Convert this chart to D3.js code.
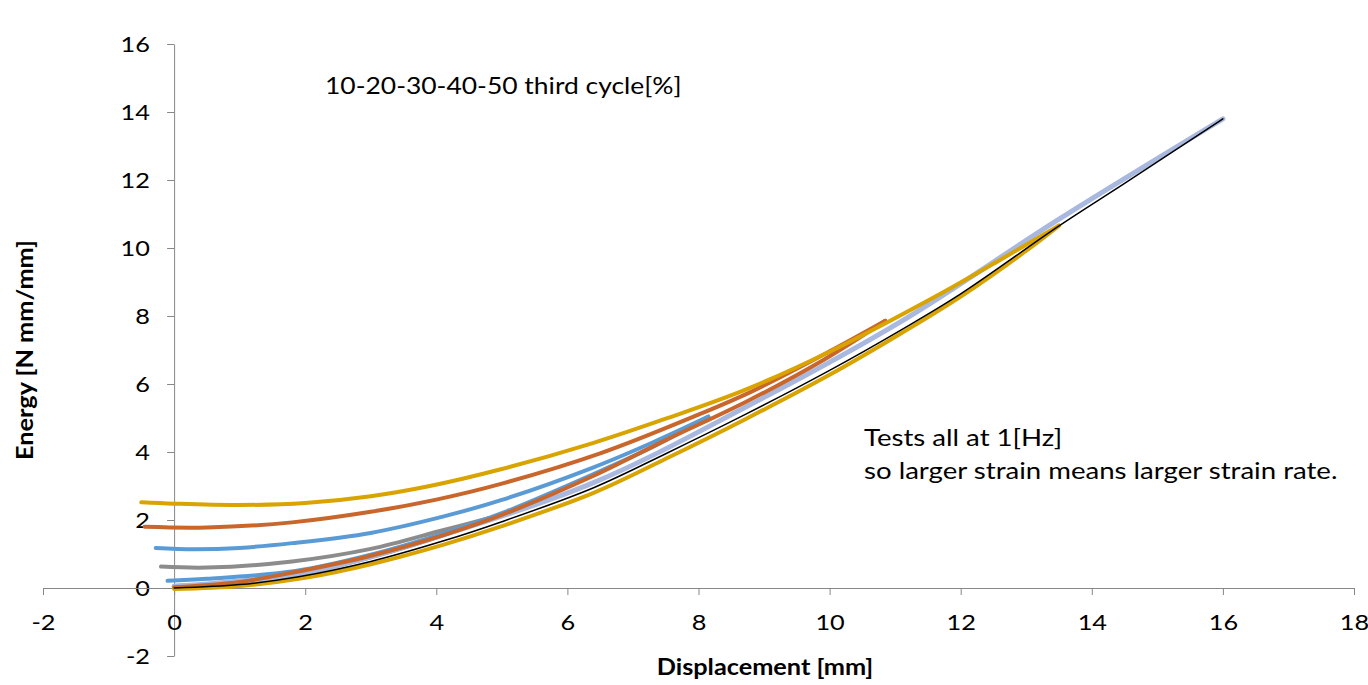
<!DOCTYPE html>
<html>
<head>
<meta charset="utf-8">
<script src="https://cdn.jsdelivr.net/npm/d3@7"></script>
<style>
  body { margin: 0; background: #fff; }
  svg { font-family: Lato, "Open Sans", sans-serif; }
</style>
</head>
<body>
<svg width="1368" height="685"></svg>
<script>
// ticks
const xTicks = [-2, 0, 2, 4, 6, 8, 10, 12, 14, 16, 18];
const yTicks = [-2, 0, 2, 4, 6, 8, 10, 12, 14, 16];

// [displacement, energy]
const grayLoad = [[0, 0.06], [1, 0.17], [2, 0.45], [3, 0.9], [4, 1.48], [4.8, 2.03]];
const grayUnload = [[4.8, 2.05], [4.1, 1.7], [3, 1.15], [1.8, 0.78], [0.5, 0.6], [-0.2, 0.63]];
const lavenderLoad = [[0, 0.05], [2, 0.45], [4, 1.5], [6.4, 3.1], [8.7, 5.3], [11.1, 7.85], [13.5, 10.85], [16, 13.8]];
const blueLoad = [[-0.1, 0.21], [0.5, 0.27], [1.85, 0.5], [3, 0.98], [4.1, 1.6], [5, 2.2], [6.4, 3.35], [7.3, 4.15], [8.15, 5.04]];
const blueUnload = [[8.15, 5.04], [7.3, 4.28], [6.4, 3.55], [5, 2.59], [4.1, 2.1], [3, 1.62], [1.8, 1.32], [1, 1.18], [0.3, 1.14], [-0.28, 1.18]];
const orangeLoad = [[0, 0.02], [1, 0.18], [1.77, 0.44], [3, 0.95], [4.1, 1.55], [5, 2.15], [6.4, 3.3], [7.5, 4.35], [8.75, 5.5], [9.9, 6.7], [10.85, 7.86]];
const orangeUnload = [[10.85, 7.86], [10, 6.96], [8.8, 5.77], [8, 5.1], [6.5, 3.96], [5, 3.07], [4, 2.6], [3, 2.24], [1.8, 1.93], [0.5, 1.78], [-0.45, 1.8]];
const goldLoad = [[0, -0.03], [1, 0.06], [2, 0.3], [3, 0.7], [4.1, 1.27], [5, 1.82], [6.4, 2.8], [7.5, 3.8], [8.7, 4.95], [10, 6.27], [11.1, 7.5], [12, 8.57], [13, 9.92], [13.5, 10.66]];
const goldUnload = [[13.5, 10.66], [12.6, 9.65], [11.6, 8.56], [10, 6.95], [8.7, 5.82], [7.5, 4.98], [6.4, 4.27], [5, 3.5], [3.9, 3.0], [3, 2.7], [2, 2.5], [1, 2.44], [0, 2.48], [-0.5, 2.52]];
const blackLoad = [[0, 0], [1, 0.1], [1.9, 0.33], [3, 0.78], [4.1, 1.38], [5, 1.95], [6.4, 2.95], [7.5, 3.95], [8.7, 5.09], [10, 6.4], [11.1, 7.6], [12, 8.65], [13.5, 10.65], [14.5, 11.9], [16, 13.8]];

const series = [
  { pts: grayLoad, color: "#8c8c8c", w: 4 },
  { pts: grayUnload, color: "#8c8c8c", w: 4 },
  { pts: lavenderLoad, color: "#a9b8de", w: 5 },
  { pts: blueLoad, color: "#5b9bd5", w: 4 },
  { pts: blueUnload, color: "#5b9bd5", w: 4 },
  { pts: orangeLoad, color: "#c9662b", w: 4 },
  { pts: orangeUnload, color: "#c9662b", w: 4 },
  { pts: goldLoad, color: "#d9a400", w: 4 },
  { pts: goldUnload, color: "#d9a400", w: 4 },
  { pts: blackLoad, color: "#000", w: 1.5 }
];

const svg = d3.select("svg");

const x = d3.scaleLinear().domain([-2, 18]).range([43, 1354]);
const y = d3.scaleLinear().domain([-2, 16]).range([656, 44]);

const axisColor = "#878787";
const stretch = 1.15; // the original text is a bit wide

// plain hyphen for negatives, like the original
const fmt = d => String(d);

// y axis sits at x = 0
const yAxis = svg.append("g")
    .attr("transform", `translate(${x(0)},0)`)
    .call(d3.axisLeft(y).tickValues(yTicks).tickFormat(fmt).tickSizeInner(7).tickSizeOuter(0));

// x axis sits at y = 0
const xAxis = svg.append("g")
    .attr("transform", `translate(0,${y(0)})`)
    .call(d3.axisBottom(x).tickValues(xTicks).tickFormat(fmt).tickSizeInner(7).tickSizeOuter(0));

[xAxis, yAxis].forEach(g => {
  g.selectAll("path, line").attr("stroke", axisColor).attr("stroke-width", 1);
  g.selectAll("text").attr("font-size", 22).attr("fill", "#000")
    .attr("font-family", "Lato, 'Open Sans', sans-serif")
    .attr("transform", `scale(${stretch},1)`);
});
yAxis.selectAll("text").attr("x", -21).attr("dy", "0.36em");
xAxis.selectAll("text").attr("y", 42).attr("dy", 0);

const line = d3.line()
    .x(d => x(d[0]))
    .y(d => y(d[1]))
    .curve(d3.curveCatmullRom.alpha(0.5));

svg.append("g").selectAll("path")
    .data(series)
    .enter()
    .append("path")
    .attr("d", d => line(d.pts))
    .attr("fill", "none")
    .attr("stroke", d => d.color)
    .attr("stroke-width", d => d.w)
    .attr("stroke-linecap", "round");

// notes
function note(tx, ty, str, size, sx) {
  return svg.append("text")
      .attr("transform", `translate(${tx},${ty}) scale(${sx},1)`)
      .attr("font-size", size)
      .text(str);
}
note(325, 93.5, "10-20-30-40-50 third cycle[%]", 23, 1.15);
note(864, 446, "Tests all at 1[Hz]", 23, 1.2);
note(864, 479, "so larger strain means larger strain rate.", 23, 1.2);

// axis titles
svg.append("text")
    .attr("transform", `translate(765,675) scale(${stretch},1)`)
    .attr("text-anchor", "middle")
    .attr("font-size", 22)
    .attr("font-weight", "bold")
    .text("Displacement [mm]");

svg.append("text")
    .attr("transform", `translate(33,350) rotate(-90) scale(${stretch},1)`)
    .attr("text-anchor", "middle")
    .attr("font-size", 22)
    .attr("font-weight", "bold")
    .text("Energy [N mm/mm]");
</script>
</body>
</html>
